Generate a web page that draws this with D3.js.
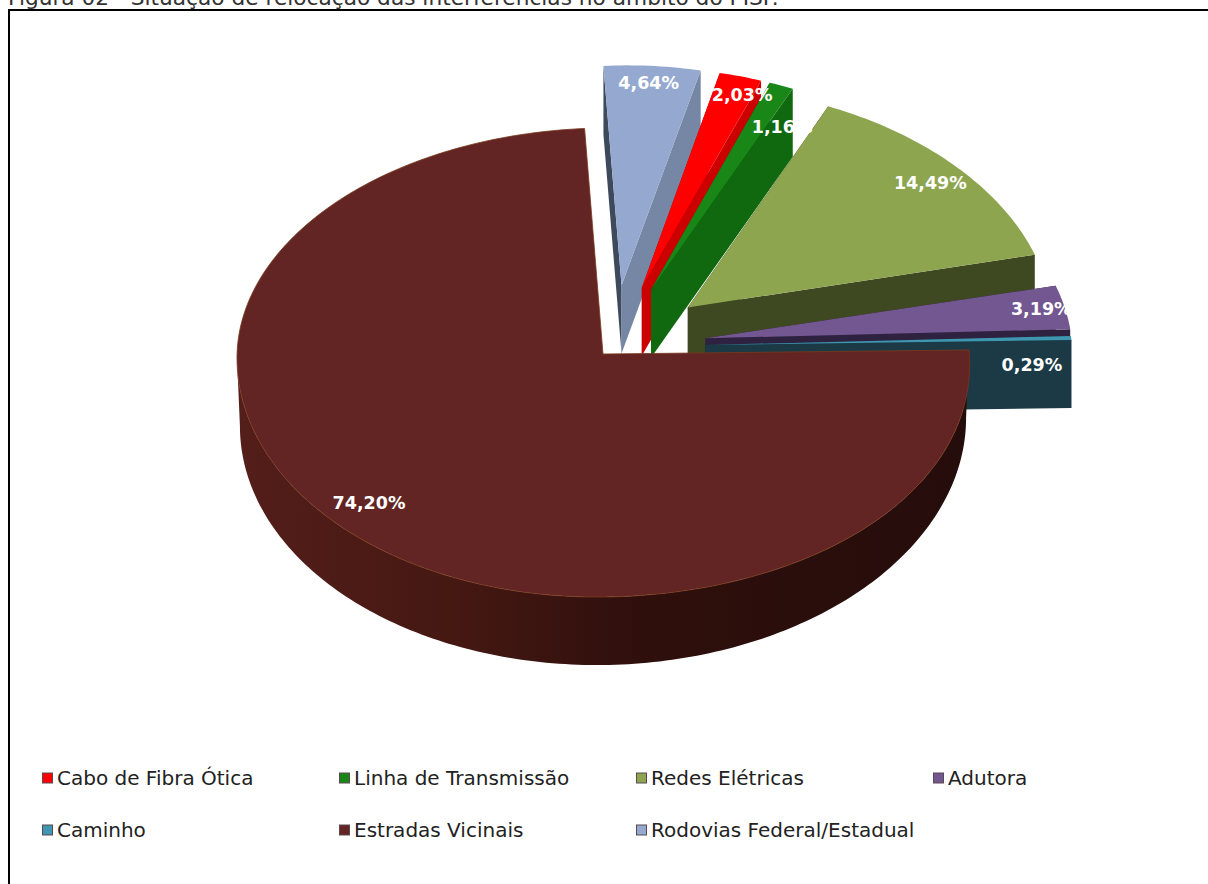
<!DOCTYPE html>
<html>
<head>
<meta charset="utf-8">
<script src="https://cdn.jsdelivr.net/npm/d3@7"></script>
<style>
  html, body { margin: 0; padding: 0; background: #fff; overflow: hidden; }
  text { font-family: "DejaVu Sans", sans-serif; }
</style>
</head>
<body>
<div id="chart"></div>
<script>
const categories = ["Cabo de Fibra Ótica", "Linha de Transmissão", "Redes Elétricas", "Adutora", "Caminho", "Estradas Vicinais", "Rodovias Federal/Estadual"]
const values = [2.03, 1.16, 14.49, 3.19, 0.29, 74.20, 4.64]
const labels = ["2,03%", "1,16%", "14,49%", "3,19%", "0,29%", "74,20%", "4,64%"]
const caption = "Figura 02 - Situação de relocação das interferências no âmbito do PISF."

const topColors = ["#ff0000", "#188718", "#8ea550", "#735791", "#3f96b0", "#632523", "#95a9d0"]
const rightWallColors = ["#cc0000", "#10680f", "#3e4821", "#2f2240", "#1b3a46", "#2c0d0a", "#7687a5"]
const leftWallColors = ["#990000", "#0c4f0c", "#2e3619", "#241a30", "#142c35", "#2c0d0a", "#3d4a5c"]

// where each label sits inside its slice: angle in degrees, radius as share of the pie radius
const labelAngles = [19.2, 28, 51.9, 83, 96.3, 226.8, 5.2]
const labelRadii = [0.92, 0.83, 0.895, 0.935, 0.89, 0.877, 0.925]

const width = 1208
const height = 884
const cx = 603
const depth = 68
const mainIndex = 5
const pieStart = 13.82
const rad = Math.PI / 180

const svg = d3.select("#chart").append("svg")
  .attr("width", width)
  .attr("height", height)

const wallGrad = svg.append("defs").append("linearGradient")
  .attr("id", "wallGrad")
wallGrad.selectAll("stop")
  .data([[0, "#541e1a"], [0.3, "#451812"], [0.55, "#2f0f0c"], [1, "#250d0b"]])
  .enter().append("stop")
  .attr("offset", d => d[0])
  .attr("stop-color", d => d[1])

svg.append("text")
  .attr("x", 8)
  .attr("y", 5)
  .style("font-size", "21.7px")
  .style("fill", "#333")
  .text(caption)

svg.append("rect")
  .attr("x", 9)
  .attr("y", 10)
  .attr("width", width + 50)
  .attr("height", height + 50)
  .style("fill", "none")
  .style("stroke", "#000")
  .style("stroke-width", 2)

const pieData = d3.pie().sort(null).value(d => d)
  .startAngle(pieStart * rad)
  .endAngle((pieStart + 360) * rad)(values)

const xScale = d3.scaleLinear().domain([-1, 1]).range([-366, 366])
const yScale = d3.scaleLinear().domain([-1, 0, 1]).range([-220, 0, 243])
const yScaleMain = d3.scaleLinear().domain([-1, 0, 1]).range([-226, 0, 243])

// ground plane to screen. the big slice stays put, the others are pulled out
function projector(i) {
  const main = i === mainIndex
  const mid = (pieData[i].startAngle + pieData[i].endAngle) / 2
  const ex = main ? 0 : 0.28 * Math.sin(mid) + 0.025 * Math.cos(mid)
  const ey = main ? 0 : -0.28 * Math.cos(mid)
  const cy = main ? 354 : 347
  const y = main ? yScaleMain : yScale
  const skew = main ? 4 : 5
  return function (a, r, drop) {
    const u = ex + r * Math.sin(a)
    const v = ey - r * Math.cos(a)
    let stretch = 1 + 0.065 * v
    if (main) {
      // top face bulges on the front right, the lower rim is a bit narrower
      stretch = drop ? 0.992 : (u > 0 && v > 0 ? 1 + 0.06 * v : 1)
    }
    return [cx + xScale(u) * stretch, cy + y(v) - skew * u + (drop || 0)]
  }
}

const line = d3.line()

function arcPoints(p, a0, a1, drop) {
  const n = Math.max(4, Math.ceil((a1 - a0) / (1 * rad)))
  return d3.range(n + 1).map(k => p(a0 + (a1 - a0) * k / n, 1, drop))
}

// back to front: rodovias first, then clockwise, big slice last
const order = [6, 0, 1, 2, 3, 4, 5]
const pie = svg.append("g")

order.forEach(i => {
  const d = pieData[i]
  const p = projector(i)
  const apex = p(0, 0)
  const apexLow = p(0, 0, depth)
  const g = pie.append("g")

  if (i === mainIndex) {
    // outer wall, only the part turned to the viewer
    const from = Math.max(d.startAngle, 90 * rad)
    const to = Math.min(d.endAngle, 270 * rad)
    const wall = arcPoints(p, from, to).concat(arcPoints(p, from, to, depth).reverse())
    g.append("path")
      .attr("d", line(wall) + "Z")
      .style("fill", "url(#wallGrad)")
  } else {
    const s = p(d.startAngle, 1)
    const e = p(d.endAngle, 1)
    g.append("path")
      .attr("d", line([s, apex, apexLow, p(d.startAngle, 1, depth)]) + "Z")
      .style("fill", leftWallColors[i])
    g.append("path")
      .attr("d", line([e, apex, apexLow, p(d.endAngle, 1, depth)]) + "Z")
      .style("fill", rightWallColors[i])
  }

  g.append("path")
    .attr("d", line([apex].concat(arcPoints(p, d.startAngle, d.endAngle))) + "Z")
    .style("fill", topColors[i])
    .style("stroke", i === mainIndex ? "#7a3a1c" : "none")
    .style("stroke-width", 0.8)
})

const labelLayer = svg.append("g")
pieData.forEach((d, i) => {
  const pos = projector(i)(labelAngles[i] * rad, labelRadii[i])
  labelLayer.append("text")
    .attr("x", pos[0])
    .attr("y", pos[1])
    .attr("dy", "0.36em")
    .style("text-anchor", "middle")
    .style("font-size", "17.5px")
    .style("font-weight", "bold")
    .style("fill", "#fff")
    .text(labels[i])
})

// legend, four columns
const legendX = d3.scaleLinear().domain([0, 3]).range([42, 933])
const legendY = d3.scaleLinear().domain([0, 1]).range([778, 830])

const legend = svg.selectAll(".legend")
  .data(categories)
  .enter().append("g")
  .classed("legend", true)
  .attr("transform", (c, i) => `translate(${legendX(i % 4)},${legendY(Math.floor(i / 4))})`)

legend.append("rect")
  .attr("x", 0.5)
  .attr("y", -5)
  .attr("width", 10)
  .attr("height", 10)
  .style("fill", (c, i) => topColors[i])
  .style("stroke", "#5a4a50")
  .style("stroke-width", 1)

legend.append("text")
  .attr("x", 15)
  .attr("dy", "0.36em")
  .style("font-size", "20px")
  .style("fill", "#222")
  .text(c => c)
</script>
</body>
</html>
